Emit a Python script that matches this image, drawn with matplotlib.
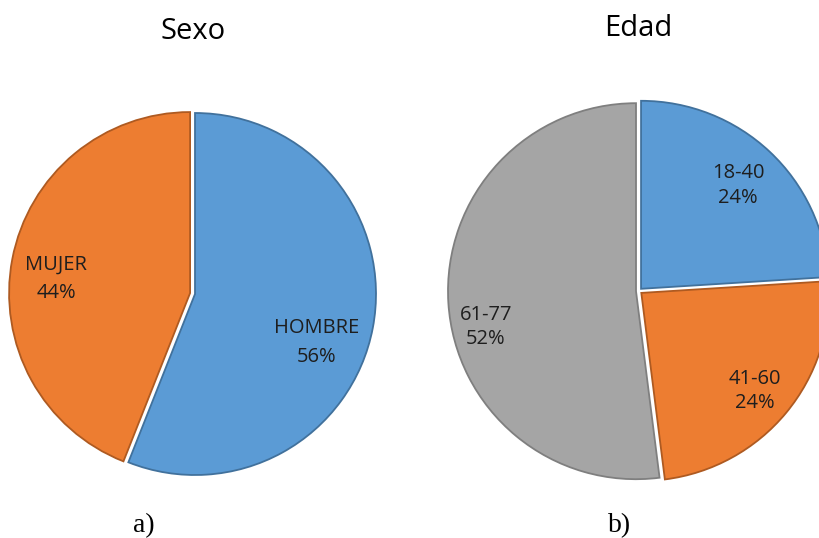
import matplotlib
matplotlib.use('Agg')
import matplotlib.pyplot as plt

W, H = 820, 538

sexo_labels = ['HOMBRE', 'MUJER']
sexo_values = [56, 44]
edad_labels = ['18-40', '41-60', '61-77']
edad_values = [24, 24, 52]

blue, orange, gray = '#5B9BD5', '#ED7D31', '#A5A5A5'
edge = {blue: '#41719C', orange: '#AE5A21', gray: '#7F7F7F'}

plt.rcParams['font.family'] = ['Open Sans', 'DejaVu Sans']

fig = plt.figure(figsize=(8.2, 5.38), dpi=100)
ax = fig.add_axes([0, 0, 1, 1])


def draw_pie(values, colors, center, radius, explode):
    wedges, _ = ax.pie(values, colors=colors, startangle=90, counterclock=False,
                       center=(center[0], H - center[1]), radius=radius,
                       explode=explode)
    for w, c in zip(wedges, colors):
        w.set_edgecolor(edge[c])
        w.set_linewidth(1.3)
    return wedges


draw_pie(sexo_values, [blue, orange], (195, 294), 181, [0, 5])
draw_pie(edad_values, [blue, orange, gray], (639, 291), 188, [3, 3, 3])

# label positions (x, baseline of first line, baseline of second line) in pixels
sexo_pos = [(317, 333, 362), (56, 270, 298)]
edad_pos = [(738, 178, 203), (755, 384, 408), (486, 320, 344)]

for lab, val, (x, y1, y2) in zip(sexo_labels + edad_labels,
                                 sexo_values + edad_values,
                                 sexo_pos + edad_pos):
    ax.text(x, H - y1, lab, ha='center', va='baseline', fontsize=14.5, color='#1e1e1e')
    ax.text(x, H - y2, f'{val}%', ha='center', va='baseline', fontsize=14.5, color='#1e1e1e')

ax.text(193, H - 39, 'Sexo', ha='center', va='baseline', fontsize=21, color='black')
ax.text(638, H - 36, 'Edad', ha='center', va='baseline', fontsize=21, color='black')

ax.text(144, H - 532, 'a)', ha='center', va='baseline', fontsize=20,
        family='Liberation Serif', color='black')
ax.text(620, H - 532, 'b)', ha='center', va='baseline', fontsize=20,
        family='Liberation Serif', color='black')

ax.set_xlim(0, W)
ax.set_ylim(0, H)
ax.axis('off')

fig.savefig('out.png', dpi=100)
